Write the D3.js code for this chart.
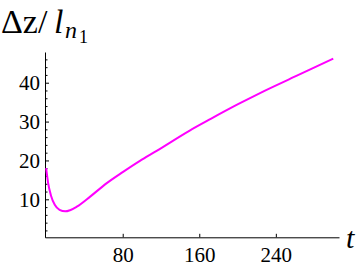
<!DOCTYPE html>
<html>
<head>
<meta charset="utf-8">
<script src="https://cdn.jsdelivr.net/npm/d3@7"></script>
<style>
  body { margin: 0; background: #fff; }
  svg { display: block; }
  .axis path, .axis line { stroke: #000; stroke-width: 1; }
</style>
</head>
<body>
<svg id="chart" width="360" height="266"></svg>
<script>
// values
const tValues = [0, 2, 5, 9, 14, 20, 25, 32, 46, 63, 80, 98, 115, 150, 172, 200, 224, 262, 300];
const dzValues = [18.0, 14.3, 11.0, 8.6, 7.3, 6.9, 7.2, 8.1, 10.7, 14.1, 17.0, 19.9, 22.4, 27.7, 30.7, 34.4, 37.4, 41.8, 46.2];
const xTicks = [80, 160, 240];
const yTicks = [10, 20, 30, 40];
const yMinorTicks = [2, 4, 6, 8, 12, 14, 16, 18, 22, 24, 26, 28, 32, 34, 36, 38, 42, 44, 46];

const serif = "Liberation Serif";

const svg = d3.select("#chart");

const x = d3.scaleLinear().domain([-1.2, 306]).range([45, 339]);
const y = d3.scaleLinear().domain([0.23, 47.9]).range([237.3, 52]);

// y axis: ticks point into the plot
svg.append("g")
    .attr("class", "axis")
    .attr("transform", `translate(${x(-1.2)},0)`)
    .call(d3.axisLeft(y).tickValues(yMinorTicks).tickSize(-2.5).tickFormat(""))
    .call(g => g.select(".domain").remove());

svg.append("g")
    .attr("class", "axis")
    .attr("transform", `translate(${x(-1.2)},0)`)
    .call(d3.axisLeft(y).tickValues(yTicks).tickSizeInner(-4).tickSizeOuter(0).tickPadding(5));

// x axis
svg.append("g")
    .attr("class", "axis")
    .attr("transform", `translate(0,${y(0.23)})`)
    .call(d3.axisBottom(x).tickValues(xTicks).tickSizeInner(-3.5).tickSizeOuter(0).tickPadding(10));

// d3 puts font-family="sans-serif" on the axis groups
svg.selectAll(".axis")
    .attr("font-family", serif)
    .attr("font-size", 21)
    .selectAll("text")
    .attr("font-family", serif)
    .attr("fill", "#000");

// curve
const line = d3.line()
    .x((d, i) => x(tValues[i]))
    .y(d => y(d))
    .curve(d3.curveMonotoneX);

svg.append("path")
    .datum(dzValues)
    .attr("fill", "none")
    .attr("stroke", "#ff00ff")
    .attr("stroke-width", 2)
    .attr("d", line);

// axis labels
const yLabel = svg.append("text")
    .attr("font-family", serif)
    .attr("fill", "#000");
yLabel.append("tspan").attr("x", 1).attr("y", 33).attr("font-size", 34).text("Δz/");
yLabel.append("tspan").attr("x", 54).attr("y", 33).attr("font-size", 34).attr("font-style", "italic").text("l");
yLabel.append("tspan").attr("x", 65).attr("y", 38).attr("font-size", 24).attr("font-style", "italic").text("n");
yLabel.append("tspan").attr("x", 79).attr("y", 43).attr("font-size", 18).text("1");

svg.append("text")
    .attr("x", 346)
    .attr("y", 248)
    .attr("font-family", serif)
    .attr("font-size", 30)
    .attr("font-style", "italic")
    .text("t");
</script>
</body>
</html>
